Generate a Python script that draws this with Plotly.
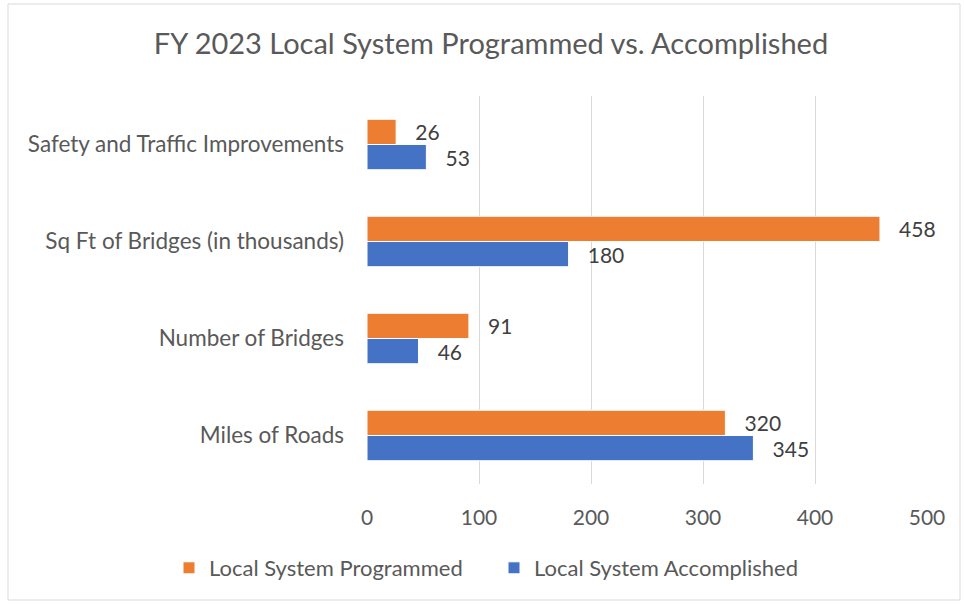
import plotly.graph_objects as go

categories = ["Miles of Roads", "Number of Bridges", "Sq Ft of Bridges (in thousands)", "Safety and Traffic Improvements"]
programmed = [320, 91, 458, 26]
accomplished = [345, 46, 180, 53]
x_ticks = [0, 100, 200, 300, 400, 500]

FONT = "Lato, Carlito, Calibri, sans-serif"
GRAY = "#595959"

fig = go.Figure()
fig.add_trace(go.Bar(
    y=categories, x=accomplished, orientation="h", name="Local System Accomplished",
    marker=dict(color="#4472C4", line=dict(color="white", width=1)),
    text=accomplished, texttemplate="   %{x}", textposition="outside",
    textfont=dict(family=FONT, size=21, color="#404040"), cliponaxis=False,
    legendrank=2,
))
fig.add_trace(go.Bar(
    y=categories, x=programmed, orientation="h", name="Local System Programmed",
    marker=dict(color="#ED7D31", line=dict(color="white", width=1)),
    text=programmed, texttemplate="   %{x}", textposition="outside",
    textfont=dict(family=FONT, size=21, color="#404040"), cliponaxis=False,
    legendrank=1,
))

fig.update_layout(
    width=964, height=605,
    margin=dict(l=367, r=37, t=96, b=121, autoexpand=False),
    paper_bgcolor="white", plot_bgcolor="white",
    barmode="group", bargap=0.48, bargroupgap=0,
    title=dict(text="FY 2023 Local System Programmed vs. Accomplished",
               font=dict(family=FONT, size=29, color=GRAY),
               x=491 / 964, xanchor="center", xref="container", y=1 - 44 / 605, yanchor="middle"),
    font=dict(family=FONT, color=GRAY),
    xaxis=dict(range=[0, 500], tickvals=x_ticks, showgrid=True, gridcolor="#D9D9D9", gridwidth=1,
               zeroline=False, showline=False, ticks="", tickfont=dict(size=21, color=GRAY),
               ticklabelstandoff=19, fixedrange=True),
    yaxis=dict(categoryorder="array", categoryarray=categories, showgrid=False, zeroline=False,
               showline=False, ticks="", tickfont=dict(size=22.5, color=GRAY),
               ticklabelstandoff=22, fixedrange=True),
    legend=dict(orientation="h", x=(169 - 367) / 560, xref="paper", xanchor="left",
                y=-(568 - 484) / 388, yref="paper", yanchor="middle",
                font=dict(family=FONT, size=22, color=GRAY), entrywidth=280, entrywidthmode="pixels",
                tracegroupgap=0, itemclick=False, bgcolor="rgba(0,0,0,0)"),
    showlegend=True,
    shapes=[dict(type="rect", xref="paper", yref="paper",
                 x0=(8 - 367) / 560, x1=(960 - 367) / 560,
                 y0=-(600 - 484) / 388, y1=1 + (96 - 4) / 388,
                 line=dict(color="#D9D9D9", width=1), fillcolor="rgba(0,0,0,0)", layer="below")],
)

fig.write_html("out.html")
